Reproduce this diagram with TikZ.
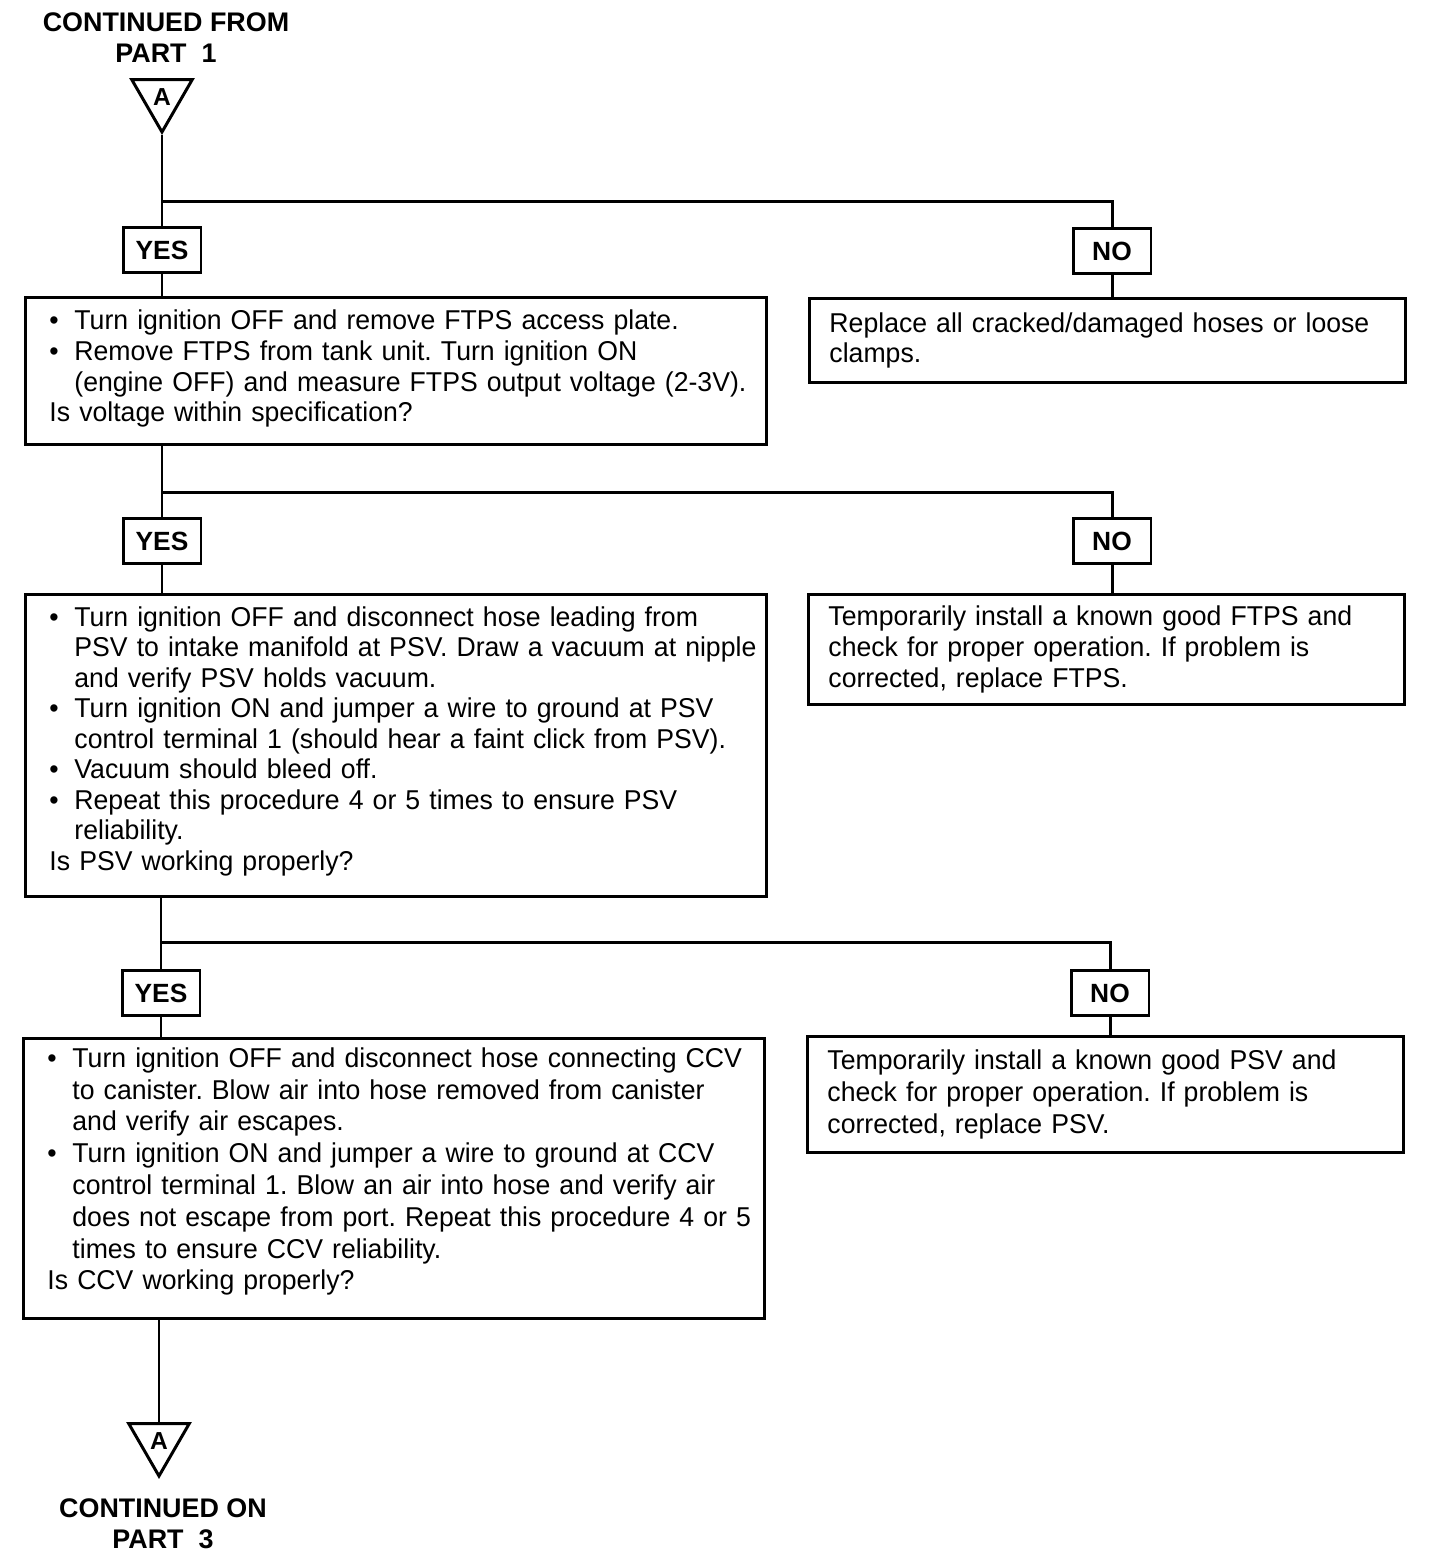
\documentclass[tikz,border=0pt]{standalone}
\usepackage{fontspec}
\setmainfont{Liberation Sans}[FakeStretch=0.978, BoldFeatures={FakeStretch=1}]
\usetikzlibrary{shapes.geometric}
\frenchspacing
\newcommand{\bul}[1]{\mbox{\makebox[14.2pt][l]{•}#1}}
\newcommand{\ind}[1]{\mbox{\hspace*{14.2pt}#1}}
\newcommand{\plainrow}[1]{\mbox{#1}}

\begin{document}
\begin{tikzpicture}[x=0.02cm, y=-0.02cm,
stepbox/.style = {draw, line width=1.7pt, anchor=north west, align=left, inner xsep=0.48cm, text width=13.86cm, font=\fontsize{15.5}{17.6}\selectfont},
fixbox/.style = {draw, line width=1.7pt, anchor=north west, align=left, inner xsep=0.4cm, text width=11.12cm, font=\fontsize{15.5}{17.6}\selectfont},
answer/.style = {draw, line width=1.7pt, minimum width=1.56cm, minimum height=0.9cm, inner sep=0pt, font=\fontsize{15}{17}\selectfont\bfseries},
marker/.style = {draw, line width=1.7pt, regular polygon, regular polygon sides=3, shape border rotate=180, minimum size=1.4cm, inner sep=0pt, font=\fontsize{14}{16}\selectfont\bfseries},
caption/.style = {align=center, font=\fontsize{15.3}{17.6}\selectfont\bfseries},
link/.style = {line width=1.7pt},
]
\useasboundingbox (0,0) rectangle (1440,1566);

% Draw off-page markers
\node[caption] (fromlbl) at (166,38) {CONTINUED FROM\\PART\ \ 1};
\node[marker] (triA) at (162,97) {A};
\node[marker] (triB) at (159,1441) {A};
\node[caption] (onlbl) at (163,1524) {CONTINUED ON\\PART\ \ 3};

% Draw answers
\node[answer] (yes1) at (162,250) {YES};
\node[answer] (no1) at (1112,251) {NO};
\node[answer] (yes2) at (162,541) {YES};
\node[answer] (no2) at (1112,541) {NO};
\node[answer] (yes3) at (161,993) {YES};
\node[answer] (no3) at (1110,993) {NO};

% Draw steps
\node[stepbox, minimum height=2.94cm] (box1) at (24,296) {\bul{Turn ignition OFF and remove FTPS access plate.}\\
\bul{Remove FTPS from tank unit. Turn ignition ON}\\
\ind{(engine OFF) and measure FTPS output voltage (2-3V).}\\
\plainrow{Is voltage within specification?\rule[-6pt]{0pt}{6pt}}};
\node[fixbox, minimum height=1.68cm] (repl1) at (808,297) {\plainrow{Replace all cracked/damaged hoses or loose}\\
\plainrow{clamps.}};

\node[stepbox, minimum height=6.04cm, font=\fontsize{15.5}{17.35}\selectfont] (box2) at (24,593) {\bul{Turn ignition OFF and disconnect hose leading from}\\
\ind{PSV to intake manifold at PSV. Draw a vacuum at nipple}\\
\ind{and verify PSV holds vacuum.}\\
\bul{Turn ignition ON and jumper a wire to ground at PSV}\\
\ind{control terminal 1 (should hear a faint click from PSV).}\\
\bul{Vacuum should bleed off.}\\
\bul{Repeat this procedure 4 or 5 times to ensure PSV}\\
\ind{reliability.}\\
\plainrow{Is PSV working properly?\rule[-8pt]{0pt}{8pt}}};
\node[fixbox, minimum height=2.2cm] (repl2) at (807,593) {\plainrow{Temporarily install a known good FTPS and}\\
\plainrow{check for proper operation. If problem is}\\
\plainrow{corrected, replace FTPS.}};

\node[stepbox, minimum height=5.6cm, font=\fontsize{15.5}{18.1}\selectfont] (box3) at (22,1037) {\bul{Turn ignition OFF and disconnect hose connecting CCV}\\
\ind{to canister. Blow air into hose removed from canister}\\
\ind{and verify air escapes.}\\
\bul{Turn ignition ON and jumper a wire to ground at CCV}\\
\ind{control terminal 1. Blow an air into hose and verify air}\\
\ind{does not escape from port. Repeat this procedure 4 or 5}\\
\ind{times to ensure CCV reliability.}\\
\plainrow{Is CCV working properly?\rule[-11pt]{0pt}{11pt}}};
\node[fixbox, minimum height=2.32cm, font=\fontsize{15.5}{18.1}\selectfont] (repl3) at (806,1035) {\plainrow{Temporarily install a known good PSV and}\\
\plainrow{check for proper operation. If problem is}\\
\plainrow{corrected, replace PSV.}};

% Draw forks
\coordinate (fork1) at (162,201);
\coordinate (fork2) at (162,492);
\coordinate (fork3) at (161,942);

% Draw connectors
\draw[link] (triA.corner 1) -- (yes1);
\draw[link] (fork1) -| (no1);
\draw[link] (yes1) -- (yes1 |- box1.north);
\draw[link] (no1) -- (no1 |- repl1.north);
\draw[link] (box1.south -| yes2) -- (yes2);
\draw[link] (fork2) -| (no2);
\draw[link] (yes2) -- (yes2 |- box2.north);
\draw[link] (no2) -- (no2 |- repl2.north);
\draw[link] (box2.south -| yes3) -- (yes3);
\draw[link] (fork3) -| (no3);
\draw[link] (yes3) -- (yes3 |- box3.north);
\draw[link] (no3) -- (no3 |- repl3.north);
\draw[link] (box3.south -| triB) -- (triB.side 2);

\end{tikzpicture}
\end{document}
